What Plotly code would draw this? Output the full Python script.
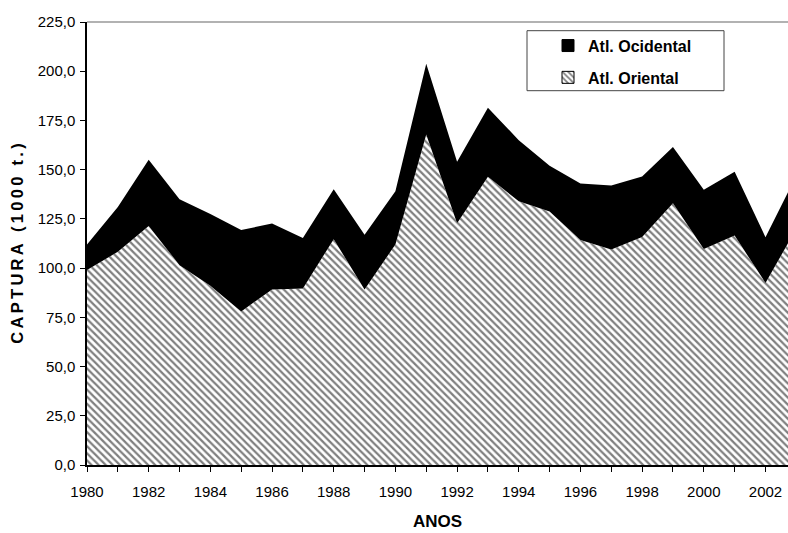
import plotly.graph_objects as go

anos = list(range(1980, 2004))
atl_oriental = [99.0, 108.3, 121.4, 101.5, 91.0, 78.0, 89.2, 89.7, 114.7, 89.2, 112.0, 167.8,
                122.8, 146.4, 134.0, 128.8, 114.3, 109.5, 115.8, 133.0, 109.7, 116.5, 92.5, 120.0]
atl_ocidental = [13.0, 22.7, 33.6, 33.5, 36.5, 41.3, 33.5, 25.6, 25.3, 27.8, 27.0, 36.0,
                 31.2, 35.1, 31.0, 23.2, 28.7, 32.5, 30.7, 28.5, 30.1, 32.5, 23.2, 27.0]
tick_anos = [a for a in range(1980, 2003)]
tick_txt = [str(a) if a % 2 == 0 else "" for a in tick_anos]

FONT = "Liberation Sans, Arial, sans-serif"
hatch = dict(shape="\\", fgcolor="black", bgcolor="white", size=5, solidity=0.45)

W, H = 788, 533
ML, MT, MB = 87, 22, 533 - 465
PW, PH = W - ML, H - MT - MB


def spaced(txt):
    return "\u2009".join(txt)


fig = go.Figure()
fig.add_trace(go.Scatter(x=anos, y=atl_oriental, name="Atl. Oriental", stackgroup="one",
                         mode="lines", line=dict(width=0), fillpattern=hatch,
                         fillcolor="white", showlegend=False))
fig.add_trace(go.Scatter(x=anos, y=atl_ocidental, name="Atl. Ocidental", stackgroup="one",
                         mode="lines", line=dict(width=0), fillcolor="black",
                         showlegend=False))
# legend keys only
fig.add_trace(go.Bar(x=[None], y=[None], name="Atl. Ocidental", legendgroup="oc",
                     marker=dict(color="black", line=dict(color="black", width=1))))
fig.add_trace(go.Bar(x=[None], y=[None], name="Atl. Oriental", legendgroup="or",
                     marker=dict(color="white", line=dict(color="black", width=1), pattern=hatch)))

fig.update_layout(
    width=W, height=H,
    margin=dict(l=ML, r=0, t=MT, b=MB),
    paper_bgcolor="white", plot_bgcolor="white",
    separators=",.",
    font=dict(family=FONT, size=15, color="black"),
    showlegend=True,
    legend=dict(x=(548 - 87) / PW, y=0.985, xanchor="left", yanchor="top",
                traceorder="grouped", tracegroupgap=8,
                bgcolor="rgba(0,0,0,0)", borderwidth=0,
                font=dict(family=FONT, size=16, weight="bold")),
    shapes=[
        dict(type="line", xref="paper", yref="paper", x0=0, x1=1, y0=1, y1=1,
             line=dict(color="#999999", width=1.5)),
        dict(type="rect", xref="paper", yref="paper",
             x0=(527 - 87) / PW, x1=(724 - 87) / PW,
             y0=(465 - 90.7) / PH, y1=(465 - 30.7) / PH,
             line=dict(color="#444444", width=1)),
    ],
)
fig.update_xaxes(range=[1980, 1980 + PW / 30.84], tickvals=tick_anos, ticktext=tick_txt,
                 ticks="outside", ticklen=5, tickcolor="black", showline=True,
                 linecolor="black", linewidth=1.5, showgrid=False, zeroline=False,
                 ticklabelstandoff=7,
                 title=dict(text="ANOS", standoff=16,
                            font=dict(family=FONT, size=17, weight="bold")))
fig.update_yaxes(range=[0, 225], dtick=25, tickformat=".1f", ticks="outside", ticklen=5,
                 tickcolor="black", showline=True, linecolor="black", linewidth=1.5,
                 showgrid=False, zeroline=False, ticklabelstandoff=2,
                 title=dict(text=spaced("CAPTURA (1000 t.)"), standoff=10,
                            font=dict(family=FONT, size=16.5, weight="bold")))

fig.write_html("out.html", config={"displayModeBar": False},
               post_script="document.body.style.margin='0';")
